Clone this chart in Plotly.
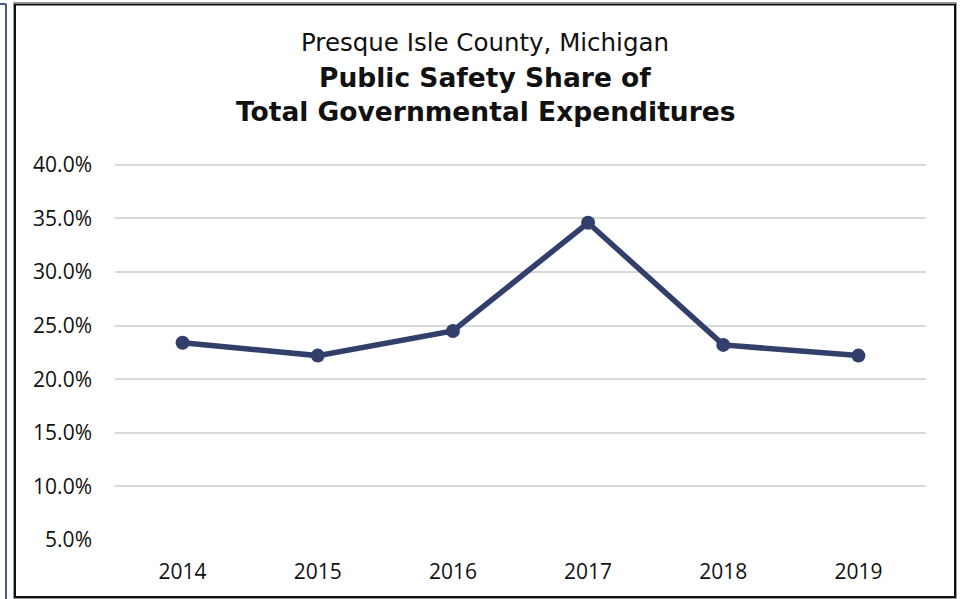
import plotly.graph_objects as go

years = ["2014", "2015", "2016", "2017", "2018", "2019"]
share = [0.234, 0.222, 0.245, 0.346, 0.232, 0.222]
y_ticks = [0.05, 0.10, 0.15, 0.20, 0.25, 0.30, 0.35, 0.40]

W, H = 961, 599
L, R, T, B = 115, 35, 162, 59
pw, ph = W - L - R, H - T - B

def px(x):
    return (x - L) / pw

def py(y):
    return (H - B - y) / ph

fig = go.Figure()
fig.add_trace(go.Scatter(
    x=years, y=share, mode="lines+markers",
    line=dict(color="#323f6b", width=5.5),
    marker=dict(color="#323f6b", size=14),
    hoverinfo="x+y",
))

font_tick = "Open Sans, DejaVu Sans, sans-serif"
font_title = "DejaVu Sans, sans-serif"

fig.update_layout(
    width=W, height=H,
    margin=dict(l=L, r=R, t=T, b=B),
    paper_bgcolor="white", plot_bgcolor="white",
    showlegend=False,
    xaxis=dict(
        type="category", range=[-0.5, 5.5], showgrid=False, zeroline=False, showline=False,
        ticks="", tickfont=dict(family=font_tick, size=21, color="#111"),
        ticklabelstandoff=17,
    ),
    yaxis=dict(
        range=[0.0499, 0.4027], tickvals=y_ticks, tickformat=".1%",
        showgrid=True, gridcolor="#d9d9d9", gridwidth=2,
        zeroline=False, showline=False, ticks="",
        tickfont=dict(family=font_tick, size=21, color="#111"),
        ticklabelstandoff=22,
    ),
    annotations=[
        dict(text="Presque Isle County, Michigan", xref="paper", yref="paper",
             x=px(485), y=py(43), showarrow=False, xanchor="center", yanchor="middle",
             font=dict(family=font_title, size=24.5, color="#111")),
        dict(text="<b>Public Safety Share of</b>", xref="paper", yref="paper",
             x=px(485), y=py(77), showarrow=False, xanchor="center", yanchor="middle",
             font=dict(family=font_title, size=26.5, color="#111")),
        dict(text="<b>Total Governmental Expenditures</b>", xref="paper", yref="paper",
             x=px(485), y=py(112), showarrow=False, xanchor="center", yanchor="middle",
             font=dict(family=font_title, size=26.5, color="#111")),
    ],
    shapes=[
        dict(type="line", xref="paper", yref="paper", x0=px(6), x1=px(6), y0=py(4), y1=py(600),
             line=dict(color="#4a5a8a", width=2)),
        dict(type="line", xref="paper", yref="paper", x0=px(-2), x1=px(6), y0=py(4), y1=py(4),
             line=dict(color="#4a5a8a", width=2)),
        dict(type="rect", xref="paper", yref="paper", x0=px(13.5), x1=px(956.5), y0=py(2.5), y1=py(598.5),
             line=dict(color="#9a9a9a", width=1)),
        dict(type="rect", xref="paper", yref="paper", x0=px(15), x1=px(955), y0=py(4.5), y1=py(597),
             line=dict(color="#111111", width=2)),
    ],
)

fig.write_html("out.html", config={"displayModeBar": False},
               post_script="document.body.style.margin='0';document.body.style.overflow='hidden';")
